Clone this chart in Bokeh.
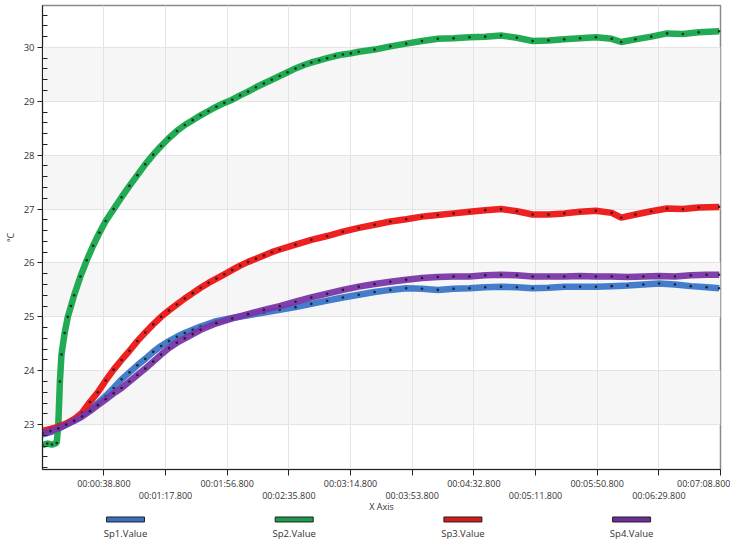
from bokeh.plotting import figure
from bokeh.models import Range1d, FixedTicker, BoxAnnotation, LinearAxis
from bokeh.layouts import column
from bokeh.embed import file_html
from bokeh.resources import INLINE
from bokeh.core.properties import value

# ---- data (seconds, °C) ----
sp1_t = [0, 5, 10, 15, 20, 25, 30, 35, 40, 45, 50, 55, 60, 65, 70, 75, 80, 85, 90, 95, 100,
         110, 120, 130, 140, 150, 160, 170, 180, 190, 200, 210, 220, 230, 240, 250, 260, 270,
         280, 290, 300, 310, 320, 330, 340, 350, 360, 370, 380, 390, 400, 410, 420, 428]
sp1_v = [22.82, 22.86, 22.92, 23.0, 23.08, 23.17, 23.28, 23.4, 23.53, 23.68, 23.84, 23.97, 24.1,
         24.22, 24.35, 24.46, 24.55, 24.63, 24.7, 24.76, 24.82,
         24.92, 24.98, 25.03, 25.08, 25.13, 25.18, 25.24, 25.3, 25.36, 25.41, 25.46, 25.5, 25.53,
         25.52, 25.5, 25.52, 25.53, 25.55, 25.56, 25.55, 25.53, 25.54, 25.56, 25.56, 25.56, 25.57,
         25.58, 25.6, 25.62, 25.6, 25.57, 25.55, 25.53]

sp2_t = [0, 3, 6, 9, 10, 11, 12, 14, 16, 18, 20, 24, 28, 32, 36, 40,
         45, 50, 55, 60, 65, 70, 75, 80, 85, 90, 95, 100, 105, 110, 115, 120, 125, 130, 135, 140,
         145, 150, 155, 160, 165, 170, 175, 180, 185, 190, 195, 200,
         210, 220, 230, 240, 250, 260, 270, 280, 290, 300, 310, 320, 330, 340, 350, 360,
         366, 375, 385, 395, 405, 415, 428]
sp2_v = [22.62, 22.65, 22.63, 22.66, 23.0, 23.8, 24.3, 24.7, 25.0, 25.2, 25.4, 25.75, 26.05, 26.32, 26.56, 26.78,
         27.0, 27.22, 27.43, 27.63, 27.83, 28.01, 28.17, 28.32, 28.45, 28.56, 28.65, 28.74, 28.82, 28.9,
         28.97, 29.03, 29.11, 29.18, 29.26, 29.33, 29.4, 29.47, 29.54, 29.61, 29.67, 29.72, 29.76, 29.8,
         29.84, 29.87, 29.89, 29.92,
         29.96, 30.02, 30.07, 30.12, 30.16, 30.17, 30.19, 30.2, 30.22, 30.18, 30.12, 30.13, 30.15, 30.17,
         30.19, 30.16,
         30.1, 30.15, 30.2, 30.26, 30.25, 30.28, 30.3]

sp3_t = [0, 5, 10, 15, 20, 25, 30, 35, 40, 45, 50, 55, 60, 65, 70, 75, 80, 85, 90, 95, 100, 105,
         110, 115, 120, 125, 130, 135, 140, 145, 150,
         160, 170, 180, 190, 200, 210, 220, 230, 240, 250, 260, 270, 280, 290, 300, 310, 320, 330,
         340, 350, 360, 366, 375, 385, 395, 405, 415, 428]
sp3_v = [22.88, 22.92, 22.96, 23.02, 23.1, 23.22, 23.42, 23.6, 23.82, 24.02, 24.2, 24.37, 24.55, 24.71,
         24.86, 25.0, 25.12, 25.23, 25.34, 25.44, 25.54, 25.63, 25.71, 25.79, 25.87, 25.95, 26.02,
         26.08, 26.14, 26.2, 26.25,
         26.34, 26.43, 26.5, 26.58, 26.65, 26.71, 26.77, 26.81, 26.86, 26.89, 26.92, 26.95, 26.98,
         27.0, 26.96, 26.9, 26.9, 26.92, 26.95, 26.97, 26.93,
         26.84, 26.9, 26.96, 27.01, 27.0, 27.03, 27.04]

sp4_t = sp1_t
sp4_v = [22.84, 22.88, 22.93, 23.0, 23.07, 23.15, 23.25, 23.36, 23.47, 23.58, 23.68, 23.8, 23.92,
         24.04, 24.17, 24.3, 24.42, 24.52, 24.6, 24.68, 24.76,
         24.88, 24.97, 25.05, 25.13, 25.2, 25.28, 25.36, 25.43, 25.5, 25.56, 25.61, 25.65, 25.69,
         25.72, 25.74, 25.75, 25.75, 25.77, 25.78, 25.77, 25.75, 25.75, 25.75, 25.76, 25.75, 25.75,
         25.74, 25.75, 25.76, 25.75, 25.77, 25.78, 25.78]

series_names = ["Sp1.Value", "Sp2.Value", "Sp3.Value", "Sp4.Value"]
series_colors = ["#3a76c8", "#16a64c", "#ee1414", "#7a36a8"]
legend_colors = ["#3d6fbf", "#1d9a4c", "#d41c1c", "#6e2e98"]

x_ticks = [38.8, 77.8, 116.8, 155.8, 194.8, 233.8, 272.8, 311.8, 350.8, 389.8, 428.8]
x_labels = ["00:00:38.800", "00:01:17.800", "00:01:56.800", "00:02:35.800", "00:03:14.800",
            "00:03:53.800", "00:04:32.800", "00:05:11.800", "00:05:50.800", "00:06:29.800",
            "00:07:08.800"]
y_ticks = [23, 24, 25, 26, 27, 28, 29, 30]
y_minor = [22.2, 22.4, 22.6, 22.8, 23.2, 23.4, 23.6, 23.8, 24.2, 24.4, 24.6, 24.8,
           25.2, 25.4, 25.6, 25.8, 26.2, 26.4, 26.6, 26.8, 27.2, 27.4, 27.6, 27.8,
           28.2, 28.4, 28.6, 28.8, 29.2, 29.4, 29.6, 29.8, 30.2, 30.4, 30.6]

FONT = "Open Sans"
TXT = "#333333"
FS = "9px"

p = figure(width=730, height=515, x_range=Range1d(0, 428.8), y_range=Range1d(22.167, 30.778),
           output_backend="svg", toolbar_location=None,
           min_border_left=42, min_border_right=10, min_border_top=5, min_border_bottom=40)
p.background_fill_color = "white"
p.border_fill_color = "white"
p.outline_line_color = "#8a8a8a"
p.outline_line_width = 1.5

# alternating bands
for lo in y_ticks[::2]:
    p.add_layout(BoxAnnotation(bottom=lo, top=lo + 1, fill_color="#f6f6f6", fill_alpha=1.0,
                               line_color=None, level="image"))

# x axis: first row of labels (even index) on the main axis
p.xaxis.ticker = FixedTicker(ticks=x_ticks, minor_ticks=[])
p.xaxis.major_label_overrides = {t: (lab if i % 2 == 0 else " ")
                                 for i, (t, lab) in enumerate(zip(x_ticks, x_labels))}
p.xaxis.major_tick_out = 6
p.xaxis.major_tick_in = 0
p.xaxis.minor_tick_out = 0
p.xaxis.minor_tick_in = 0
p.xaxis.axis_line_color = "#222222"
p.xaxis.major_tick_line_color = "#222222"
p.xaxis.major_label_text_font = FONT
p.xaxis.major_label_text_font_size = FS
p.xaxis.major_label_text_color = TXT
p.xaxis.major_label_standoff = 1

# second row of labels (odd index) on an extra axis below
ax2 = LinearAxis(ticker=FixedTicker(ticks=x_ticks, minor_ticks=[]))
ax2.major_label_overrides = {t: (lab if i % 2 == 1 else " ")
                             for i, (t, lab) in enumerate(zip(x_ticks, x_labels))}
ax2.axis_line_color = None
ax2.major_tick_line_color = None
ax2.minor_tick_line_color = None
ax2.major_tick_out = 0
ax2.major_tick_in = 0
ax2.minor_tick_out = 0
ax2.minor_tick_in = 0
ax2.major_label_text_font = FONT
ax2.major_label_text_font_size = FS
ax2.major_label_text_color = TXT
ax2.major_label_standoff = -4
ax2.axis_label = "X Axis"
ax2.axis_label_text_font = FONT
ax2.axis_label_text_font_size = FS
ax2.axis_label_text_font_style = "normal"
ax2.axis_label_text_color = TXT
ax2.axis_label_standoff = -5
p.add_layout(ax2, "below")

# y axis
p.yaxis.ticker = FixedTicker(ticks=y_ticks, minor_ticks=y_minor)
p.yaxis.major_tick_out = 5
p.yaxis.major_tick_in = 0
p.yaxis.minor_tick_out = 0
p.yaxis.minor_tick_in = 5
p.yaxis.axis_line_color = "#222222"
p.yaxis.major_tick_line_color = "#222222"
p.yaxis.minor_tick_line_color = "#222222"
p.yaxis.major_label_text_font = FONT
p.yaxis.major_label_text_font_size = "9.5px"
p.yaxis.major_label_text_color = TXT
p.yaxis.major_label_standoff = 3
p.yaxis.axis_label = "°C"
p.yaxis.axis_label_text_font = FONT
p.yaxis.axis_label_text_font_size = FS
p.yaxis.axis_label_text_font_style = "normal"
p.yaxis.axis_label_text_color = TXT
p.yaxis.axis_label_standoff = 4

p.xgrid.ticker = FixedTicker(ticks=x_ticks)
p.ygrid.ticker = FixedTicker(ticks=y_ticks)
p.xgrid.grid_line_color = "#e4e4e4"
p.ygrid.grid_line_color = "#e4e4e4"

for t, v, c in [(sp1_t, sp1_v, series_colors[0]), (sp2_t, sp2_v, series_colors[1]),
                (sp3_t, sp3_v, series_colors[2]), (sp4_t, sp4_v, series_colors[3])]:
    p.line(t, v, line_color=c, line_width=6.5, line_alpha=0.95)
    p.scatter(t, v, size=2.6, fill_color="#151515", line_color=None, fill_alpha=0.85)

# legend as a small strip below the chart (its frame aligns with the chart frame)
idx = [0, 1, 2, 3]
lg = figure(width=730, height=30, x_range=Range1d(-0.492, 3.527), y_range=Range1d(0, 1),
            output_backend="svg", toolbar_location=None, min_border=0)
lg.outline_line_color = None
lg.axis.visible = False
lg.grid.visible = False
lg.rect(x=idx, y=[0.867] * 4, width=38, height=5, width_units="screen", height_units="screen",
        fill_color=legend_colors, line_color="#222222", line_width=1)
lg.text(x=idx, y=[0.40] * 4, text=series_names, text_align="center", text_baseline="middle",
        text_font=value(FONT), text_font_size="9.5px", text_color=TXT)

layout = column(p, lg, spacing=0)
open("out.html", "w").write(file_html(layout, INLINE))
